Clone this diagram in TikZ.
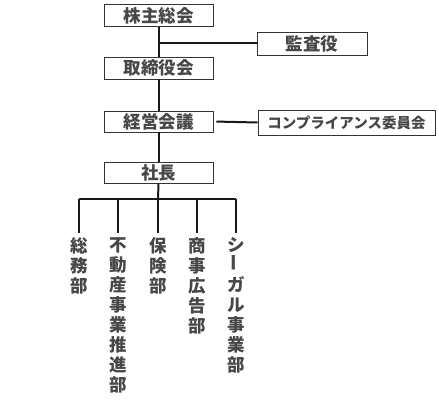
\documentclass[tikz,border=0pt]{standalone}
\usepackage{fontspec}
\newfontfamily\jpfont{Noto Sans CJK JP}
\usetikzlibrary{positioning}

\begin{document}
\begin{tikzpicture}[x=1pt,y=-1pt,font=\jpfont\bfseries\fontsize{17.5}{20}\selectfont,
    box/.style={draw=black!80,line width=0.9pt,minimum width=109pt,minimum height=22pt,inner sep=0pt,text=black!72},
    link/.style={draw=black!90,line width=2pt},
    dept/.style={align=center,anchor=north,inner sep=0pt,text=black!72}]
    \useasboundingbox (0,0) rectangle (439,401);
    \node[box] (soukai) at (158.5,15.5) {株主総会};
    \node[box,minimum width=110pt,minimum height=23pt] (kansa) at (312,43.5) {監査役};
    \node[box] (torishimari) at (158.5,68) {取締役会};
    \node[box,minimum height=21pt] (keiei) at (158.5,121.5) {経営会議};
    \node[box,minimum width=177pt,minimum height=25pt,font=\jpfont\bfseries\fontsize{14.5}{17}\selectfont] (comp) at (346.5,122.5) {コンプライアンス委員会};
    \node[box,minimum height=21pt] (shacho) at (158.5,172.5) {社長};
    % departments
    \node[dept] (soumu) at (79,237) {総\\務\\部};
    \node[dept] (fudousan) at (118,237) {不\\動\\産\\事\\業\\推\\進\\部};
    \node[dept] (hoken) at (158,237) {保\\険\\部};
    \node[dept] (koukoku) at (197,237) {商\\事\\広\\告\\部};
    \node[dept] (seagull) at (236,237) {シ\\\rotatebox{90}{ー}\\ガ\\ル\\事\\業\\部};
    \coordinate (bar) at (158,199);
    \draw[link] (soukai) -- (torishimari);
    \draw[link] (kansa.west) -- (kansa.west -| soukai.south);
    \draw[link] (torishimari) -- (keiei);
    \draw[link,shorten <=3pt] (keiei.east) -- (comp.west);
    \draw[link] (keiei) -- (shacho);
    \draw[link] (shacho.south) -- (bar);
    \draw[link] (bar -| soumu.north) -- (bar -| seagull.north);
    \foreach \d in {soumu,fudousan,hoken,koukoku,seagull}
        \draw[link,shorten >=4pt] (bar -| \d.north) -- (\d.north);
\end{tikzpicture}
\end{document}
